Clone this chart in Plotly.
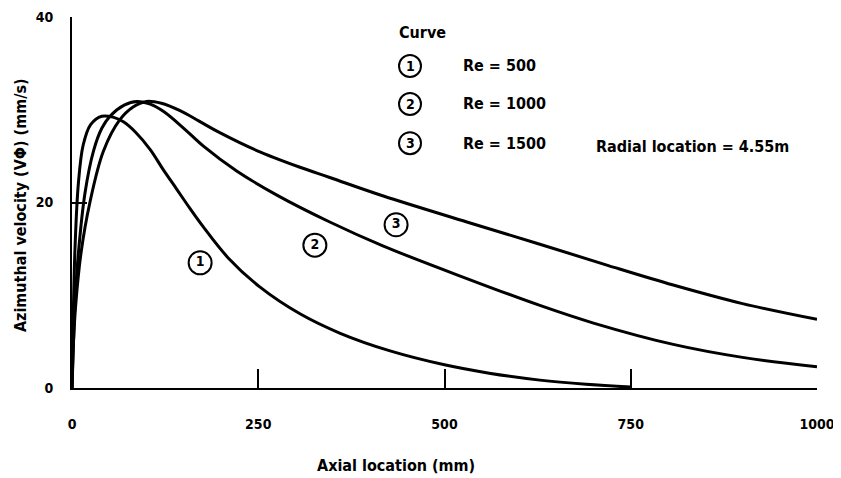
import plotly.graph_objects as go

# Curve 1: Re = 500
x1 = [0, 1, 2, 4, 8.5, 15, 25, 40, 55, 69, 85, 105, 122, 140, 158, 176, 210, 252, 306, 360, 427, 500, 560, 628, 690, 750]
y1 = [0, 5, 9, 15, 22, 26.2, 28.4, 29.3, 29.2, 28.7, 27.6, 25.7, 23.6, 21.5, 19.4, 17.4, 14.0, 10.9, 8.0, 5.9, 4.0, 2.5, 1.6, 0.85, 0.4, 0.1]
# Curve 2: Re = 1000
x2 = [0, 2, 4, 8, 17.4, 29, 40, 51, 70, 87, 105, 123, 150, 176, 221, 275, 346, 418, 530, 628, 700, 807, 900, 1000]
y2 = [0, 5, 9, 14, 21.0, 25.6, 28.0, 29.3, 30.5, 30.9, 30.6, 29.8, 28.0, 26.1, 23.4, 20.8, 17.9, 15.3, 11.8, 8.9, 7.0, 4.7, 3.3, 2.3]
# Curve 3: Re = 1500
x3 = [0, 2, 5, 12, 24, 42, 64, 82, 100, 120, 145, 170, 199, 248, 306, 346, 418, 530, 628, 720, 807, 900, 1000]
y3 = [0, 5, 9, 14.5, 20.0, 25.5, 28.9, 30.3, 30.9, 30.7, 29.9, 28.8, 27.5, 25.6, 23.8, 22.7, 20.7, 17.9, 15.5, 13.2, 11.1, 9.1, 7.4]

curve_ids = ["1", "2", "3"]
re_labels = ["Re = 500", "Re = 1000", "Re = 1500"]
# circled labels placed on the chart (data coords)
label_x = [172, 326, 435]
label_y = [13.5, 15.4, 17.6]

x_ticks = [0, 250, 500, 750, 1000]
y_ticks = [0, 20, 40]

FONT = "DejaVu Sans Condensed, DejaVu Sans, sans-serif"
fnt = dict(family=FONT, size=16, color="black", weight="bold")

fig = go.Figure()
for xs, ys in [(x1, y1), (x2, y2), (x3, y3)]:
    fig.add_trace(go.Scatter(x=xs, y=ys, mode="lines", line=dict(color="black", width=3, shape="spline", smoothing=1.0),
                             showlegend=False, hoverinfo="skip"))

fig.add_trace(go.Scatter(x=label_x, y=label_y, mode="markers+text", text=curve_ids,
                         textposition="middle center", textfont=dict(family=FONT, size=14, color="black", weight="bold"),
                         marker=dict(symbol="circle", size=23, color="white", line=dict(color="black", width=2)),
                         showlegend=False, hoverinfo="skip", cliponaxis=False))

# legend circles (paper coords via shapes)
leg_y = [0.868, 0.7655, 0.660]
for cid, lab, py in zip(curve_ids, re_labels, leg_y):
    fig.add_shape(type="circle", xref="paper", yref="paper", xsizemode="pixel", ysizemode="pixel",
                  xanchor=0.4537, yanchor=py, x0=-11, x1=11, y0=-11, y1=11,
                  line=dict(color="black", width=2), fillcolor="white")
    fig.add_annotation(x=0.4537, y=py, xref="paper", yref="paper", text=cid, showarrow=False,
                       font=dict(family=FONT, size=14, color="black", weight="bold"), xanchor="center", yanchor="middle")
    fig.add_annotation(x=0.522, y=py, xref="paper", yref="paper", text=lab, showarrow=False,
                       font=fnt, xanchor="left", yanchor="middle")

fig.add_annotation(x=0.436, y=0.957, xref="paper", yref="paper", text="Curve", showarrow=False,
                   font=fnt, xanchor="left", yanchor="middle")
fig.add_annotation(x=0.7007, y=0.6496, xref="paper", yref="paper", text="Radial location = 4.55m", showarrow=False,
                   font=fnt, xanchor="left", yanchor="middle")
fig.add_annotation(x=0.435, y=-0.21, xref="paper", yref="paper", text="Axial location (mm)", showarrow=False,
                   font=fnt, xanchor="center", yanchor="middle")
fig.add_annotation(x=-0.0698, y=0.493, xref="paper", yref="paper", text="Azimuthal velocity (VΦ) (mm/s)", showarrow=False,
                   font=fnt, xanchor="center", yanchor="middle", textangle=-90)

fig.update_xaxes(range=[0, 1000], tickvals=x_ticks, ticktext=[str(v) for v in x_ticks], automargin=False,
                 showgrid=False, zeroline=False, showline=True, linecolor="black", linewidth=2,
                 ticks="inside", ticklen=19, tickwidth=1.5, tickcolor="black",
                 tickfont=dict(family=FONT, size=14, color="black", weight="bold"), ticklabelstandoff=22)
fig.update_yaxes(range=[0, 40], tickvals=y_ticks, ticktext=[str(v) for v in y_ticks], automargin=False,
                 showgrid=False, zeroline=False, showline=True, linecolor="black", linewidth=2,
                 ticks="inside", ticklen=15, tickwidth=1.5, tickcolor="black",
                 tickfont=dict(family=FONT, size=14, color="black", weight="bold"), ticklabelstandoff=14)

# page body adds an 8px offset, so the figure is sized to fit the 841x478 window
fig.update_layout(width=833, height=470, margin=dict(l=64, r=24, t=9, b=90, autoexpand=False),
                  plot_bgcolor="white", paper_bgcolor="white", showlegend=False)

fig.write_html("out.html")
